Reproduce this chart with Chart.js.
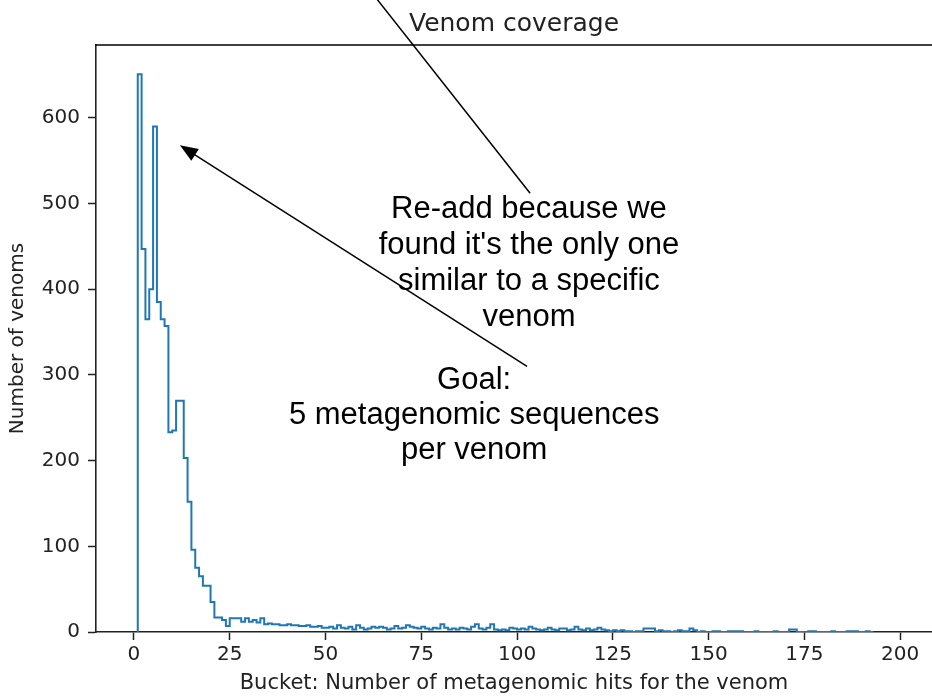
<!DOCTYPE html>
<html>
<head>
<meta charset="utf-8">
<script src="https://cdn.jsdelivr.net/npm/chart.js@4.4.0/dist/chart.umd.min.js"></script>
<style>
html, body { margin: 0; padding: 0; background: #fff; overflow: hidden; }
</style>
</head>
<body>
<canvas id="lienzo" width="932" height="696"></canvas>
<script>
// first bucket, each bucket is one hit wide
const primerBucket = 1

// number of venoms per bucket (bucket 1, 2, 3, ...)
const cuentas = [
    651, 447, 365, 400, 590, 385, 365, 357, 233, 235, 270, 270, 203, 152, 96, 75, 65, 54, 54, 35, 17, 17, 14, 7, 16,
    16, 16, 12, 16, 12, 14, 11, 16, 9, 10, 9, 9, 8, 8, 9, 8, 8, 7, 7, 8, 6, 6, 7, 5, 5,
    6, 4, 8, 5, 4, 6, 3, 8, 5, 3, 4, 6, 5, 6, 5, 3, 4, 7, 4, 5, 8, 6, 5, 4, 6,
    4, 3, 5, 4, 9, 5, 3, 4, 3, 5, 4, 3, 6, 9, 4, 3, 5, 9, 3, 2, 3, 2, 5, 4, 3,
    4, 3, 6, 4, 3, 2, 3, 5, 3, 2, 4, 4, 2, 3, 6, 3, 2, 4, 2, 3, 5, 3, 2, 1, 2,
    1, 2, 1, 1, 0, 1, 1, 4, 4, 4, 1, 2, 1, 1, 0, 1, 2, 1, 1, 4, 2, 0, 1, 0, 0,
    1, 1, 0, 0, 1, 1, 1, 1, 0, 0, 0, 1, 0, 0, 0, 0, 1, 0, 0, 0, 3, 3, 0, 0, 0,
    1, 1, 0, 0, 0, 0, 1, 0, 0, 0, 1, 1, 1, 0, 0, 1, 0
]

const ticksX = [0, 25, 50, 75, 100, 125, 150, 175, 200]
const ticksY = [0, 100, 200, 300, 400, 500, 600]

const titulo = 'Venom coverage'
const tituloX = 'Bucket: Number of metagenomic hits for the venom'
const tituloY = 'Number of venoms'

const textoMeta = ['Goal:', '5 metagenomic sequences', 'per venom']
const textoReadd = ['Re-add because we', "found it's the only one", 'similar to a specific', 'venom']

// annotation anchors in data units
const posMeta = {x: 88.8, y: 293}
const flechaMeta = {desde: {x: 102.6, y: 310}, hasta: {x: 12.0, y: 568}}
const posReadd = {x: 103.1, y: 493}
const lineaReadd = {desde: {x: 103.4, y: 512}, hasta: {x: 57, y: 775}}

// step outline of the histogram
let puntos = [{x: primerBucket, y: 0}]
cuentas.forEach((c, i) => puntos.push({x: primerBucket + i, y: c}))
puntos.push({x: primerBucket + cuentas.length, y: 0})

const fuenteEjes = 'DejaVu Sans'

flecha = (ctx, x0, y0, x1, y1) => {
    let ang = Math.atan2(y1 - y0, x1 - x0)
    let largo = 18, ancho = 7
    let bx = x1 - Math.cos(ang) * largo
    let by = y1 - Math.sin(ang) * largo
    ctx.beginPath()
    ctx.moveTo(x0, y0)
    ctx.lineTo(bx + Math.cos(ang) * 3, by + Math.sin(ang) * 3)
    ctx.stroke()
    ctx.beginPath()
    ctx.moveTo(x1, y1)
    ctx.lineTo(bx - Math.sin(ang) * ancho, by + Math.cos(ang) * ancho)
    ctx.lineTo(bx + Math.sin(ang) * ancho, by - Math.cos(ang) * ancho)
    ctx.closePath()
    ctx.fill()
}

const notas = {
    id: 'notas',
    afterDraw(chart) {
        const {ctx, chartArea} = chart
        const x = chart.scales.x, y = chart.scales.y
        ctx.save()
        // top spine
        ctx.strokeStyle = '#000'
        ctx.lineWidth = 1.5
        ctx.beginPath()
        ctx.moveTo(chartArea.left - 0.75, chartArea.top)
        ctx.lineTo(chartArea.right, chartArea.top)
        ctx.stroke()

        ctx.fillStyle = '#000'
        ctx.font = '31px "Liberation Sans", Arial, sans-serif'
        ctx.textAlign = 'center'
        ctx.textBaseline = 'middle'
        let px = x.getPixelForValue(posMeta.x), py = y.getPixelForValue(posMeta.y)
        textoMeta.forEach((t, i) => ctx.fillText(t, px, py + i * 35))
        px = x.getPixelForValue(posReadd.x); py = y.getPixelForValue(posReadd.y)
        textoReadd.forEach((t, i) => ctx.fillText(t, px, py + i * 36))

        ctx.lineWidth = 1.5
        flecha(ctx,
            x.getPixelForValue(flechaMeta.desde.x), y.getPixelForValue(flechaMeta.desde.y),
            x.getPixelForValue(flechaMeta.hasta.x), y.getPixelForValue(flechaMeta.hasta.y))
        ctx.beginPath()
        ctx.moveTo(x.getPixelForValue(lineaReadd.desde.x), y.getPixelForValue(lineaReadd.desde.y))
        ctx.lineTo(x.getPixelForValue(lineaReadd.hasta.x), y.getPixelForValue(lineaReadd.hasta.y))
        ctx.stroke()
        ctx.restore()
    }
}

new Chart(document.getElementById('lienzo'), {
    type: 'line',
    data: {
        datasets: [{
            data: puntos,
            stepped: 'before',
            borderColor: '#1f77b4',
            borderWidth: 2,
            pointRadius: 0,
            fill: false,
            tension: 0
        }]
    },
    options: {
        responsive: false,
        animation: false,
        layout: {padding: 0},
        plugins: {
            legend: {display: false},
            tooltip: {enabled: false},
            title: {
                display: true,
                text: titulo,
                fullSize: false,
                color: '#222',
                font: {family: fuenteEjes, size: 25, weight: 'normal', lineHeight: 1.2},
                padding: {top: 9, bottom: 6}
            }
        },
        scales: {
            x: {
                type: 'linear',
                min: -9.9,
                max: 208.3,
                afterBuildTicks: s => { s.ticks = ticksX.map(v => ({value: v})) },
                afterFit: s => { s.height = 64 },
                grid: {drawOnChartArea: false, tickLength: 8, tickColor: '#222', tickWidth: 1.5},
                border: {display: true, color: '#222', width: 1.6},
                ticks: {color: '#222', padding: 3, maxRotation: 0, font: {family: fuenteEjes, size: 20}},
                title: {
                    display: true, text: tituloX, color: '#222',
                    font: {family: fuenteEjes, size: 21, lineHeight: 1.2},
                    padding: {top: 0, bottom: 0}
                }
            },
            y: {
                type: 'linear',
                min: 0,
                max: 685,
                afterBuildTicks: s => { s.ticks = ticksY.map(v => ({value: v})) },
                afterFit: s => { s.width = 96 },
                grid: {drawOnChartArea: false, tickLength: 8, tickColor: '#222', tickWidth: 1.5},
                border: {display: true, color: '#222', width: 1.6},
                ticks: {color: '#222', padding: 8, font: {family: fuenteEjes, size: 20}},
                title: {
                    display: true, text: tituloY, color: '#222',
                    font: {family: fuenteEjes, size: 20, lineHeight: 1.2},
                    padding: {top: 6, bottom: 0}
                }
            }
        }
    },
    plugins: [notas]
})
</script>
</body>
</html>
